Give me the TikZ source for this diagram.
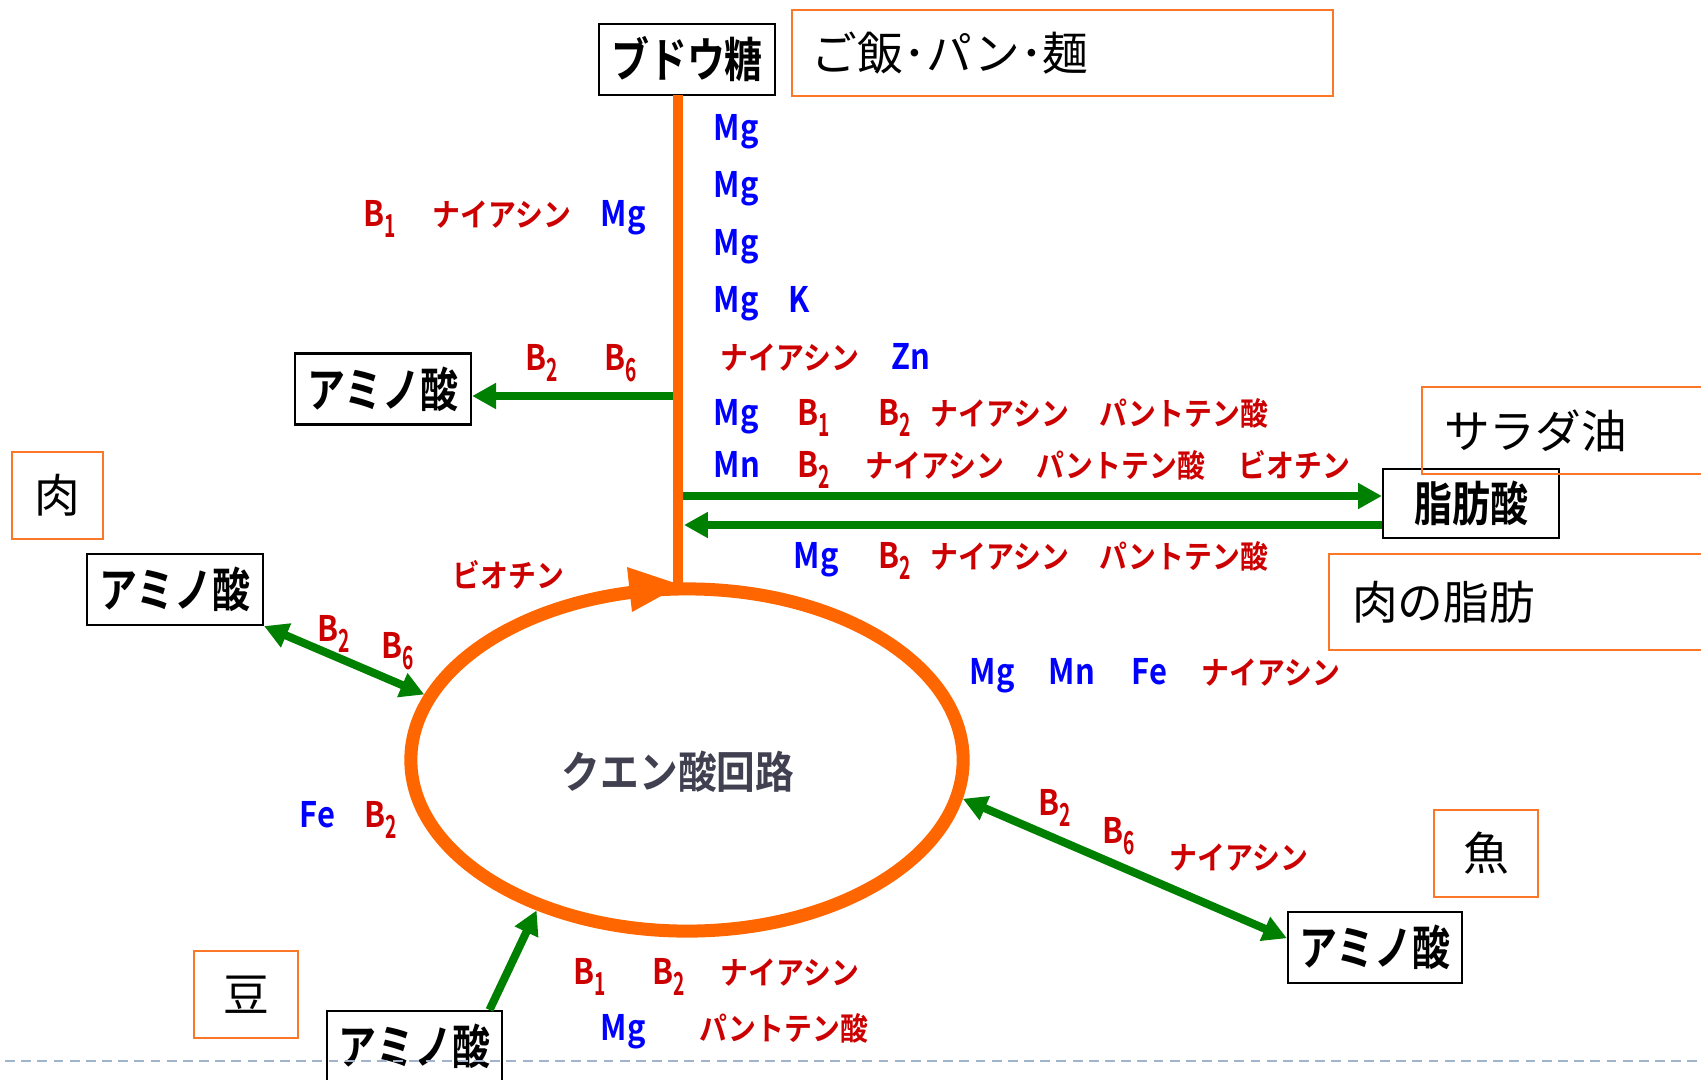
\documentclass[tikz,border=0pt]{standalone}
\usepackage{fontspec}
\usepackage{graphicx}
\usetikzlibrary{shapes.geometric,arrows.meta}
\newfontfamily\jpb{Noto Sans CJK JP Bold}[FakeStretch=0.88]
\newfontfamily\jpbx{Noto Sans CJK JP Bold}[FakeStretch=0.8]
\newfontfamily\jpr{Noto Sans CJK JP}
\definecolor{cblue}{RGB}{0,0,255}
\definecolor{cred}{RGB}{204,0,0}
\definecolor{cgreen}{RGB}{0,128,0}
\definecolor{corange}{RGB}{255,102,0}
\definecolor{coline}{RGB}{250,120,40}
\definecolor{cgray}{RGB}{64,64,80}
\definecolor{cdash}{RGB}{160,180,205}
\newcommand\bsub[1]{B\raisebox{-3.2pt}{\scalebox{0.62}[0.9]{#1}}}
\tikzset{
  lat/.style={anchor=base west, inner sep=0, font=\jpb\fontsize{10pt}{10pt}\selectfont},
  kana/.style={anchor=base west, inner sep=0, font=\jpb\fontsize{9pt}{9pt}\selectfont},
  bl/.style={lat, text=cblue},
  rl/.style={lat, text=cred},
  rk/.style={kana, text=cred},
  jbox/.style={draw=black, line width=0.6pt, inner sep=0, minimum width=1.76cm, minimum height=0.71cm, font=\jpbx\fontsize{13.5pt}{13.5pt}\selectfont},
  obox/.style={draw=coline, line width=0.55pt, inner sep=0, font=\jpr\fontsize{13pt}{13pt}\selectfont},
  garrow/.style={draw=cgreen, line width=2.3pt, -{Triangle[length=6.8pt,width=7pt]}},
  gdouble/.style={draw=cgreen, line width=2.3pt, {Triangle[length=6.8pt,width=7pt]}-{Triangle[length=6.8pt,width=7pt]}},
}
\newcommand\lbl[5]{\node[#4] (#1) at (#2,#3) {#5};}
\begin{document}
\begin{tikzpicture}[x=0.01cm,y=-0.01cm]
\useasboundingbox (0,0) rectangle (1701,1079);
\fill[white] (0,0) rectangle (1701,1079);

% boxes
\node[jbox] (bud) at (687,59.5) {ブドウ糖};
\node[jbox] (amino1) at (383,389) {アミノ酸};
\node[jbox] (amino2) at (175,589.5) {アミノ酸};
\node[jbox, minimum width=1.74cm] (amino3) at (1375,947.5) {アミノ酸};
\node[jbox, minimum width=1.75cm] (amino4) at (414.5,1046.5) {アミノ酸};
\node[jbox, minimum height=0.69cm] (fatty) at (1471,503.5) {脂肪酸};

% cycle
\node[ellipse, draw=corange, line width=3.7pt, minimum width=5.52cm, minimum height=3.42cm, inner sep=0] (cyc) at (687,760) {};
\node[inner sep=0, text=cgray, font=\jpb\fontsize{12.5pt}{12.5pt}\selectfont] (cyct) at (678,772) {クエン酸回路};

% connector end points on the trunk
\coordinate (vtop) at (678,95);
\coordinate (vbot) at (678,590);
\coordinate (va) at (678,396);
\coordinate (vf1) at (678,496);
\coordinate (vf2) at (684,525);

% green arrows
\draw[garrow] (va) -- (amino1.east |- va);
\draw[garrow] (vf1) -- (fatty.west |- vf1);
\draw[garrow] (fatty.west |- vf2) -- (vf2);
\draw[gdouble] (amino2.south east) -- (cyc.166.3);
\draw[gdouble] (cyc.-8.1) -- (amino3.174.5);
\draw[garrow] (amino4.26.7) -- (cyc.-135);

% trunk
\draw[corange, line width=3.1pt] (vtop) -- (vbot);
\fill[corange] (627,567) -- (681,585) -- (632,612) -- cycle;

% orange source boxes
\node[obox, anchor=north west, minimum height=0.86cm, text width=5.01cm, inner xsep=0.2cm, align=left] (rice) at (791,9) {ご飯･パン･麺};
\node[obox, anchor=north west, minimum height=0.87cm, text width=3.38cm, inner xsep=0.22cm, align=left] (salad) at (1421,386) {サラダ油};
\node[obox, anchor=north west, minimum height=0.96cm, text width=4.07cm, inner xsep=0.23cm, align=left] (meatfat) at (1328,553) {肉の脂肪};
\node[obox, minimum width=0.91cm, minimum height=0.87cm] (meat) at (57.5,495.5) {肉};
\node[obox, minimum width=1.04cm, minimum height=0.87cm] (fish) at (1486,853.5) {魚};
\node[obox, minimum width=1.04cm, minimum height=0.87cm] (bean) at (246,994.5) {豆};

% labels on the trunk (right)
\lbl{t1}{713}{140}{bl}{Mg}
\lbl{t2}{713}{197}{bl}{Mg}
\lbl{t3}{713}{255}{bl}{Mg}
\lbl{t4}{713}{312}{bl}{Mg}
\lbl{t5}{788}{312}{bl}{K}
\lbl{t6}{720}{369}{rk}{ナイアシン}
\lbl{t7}{891}{369}{bl}{Zn}
% left of trunk
\lbl{u1}{363}{226}{rl}{\bsub{1}}
\lbl{u2}{432}{226}{rk}{ナイアシン}
\lbl{u3}{600}{226}{bl}{Mg}
\lbl{u4}{525}{370}{rl}{\bsub{2}}
\lbl{u5}{604}{370}{rl}{\bsub{6}}
% fatty acid rows
\lbl{f1}{713}{425}{bl}{Mg}
\lbl{f2}{797}{425}{rl}{\bsub{1}}
\lbl{f3}{878}{425}{rl}{\bsub{2}}
\lbl{f4}{930}{425}{rk}{ナイアシン}
\lbl{f5}{1099}{425}{rk}{パントテン酸}
\lbl{g1}{713}{477}{bl}{Mn}
\lbl{g2}{797}{477}{rl}{\bsub{2}}
\lbl{g3}{865}{477}{rk}{ナイアシン}
\lbl{g4}{1036}{477}{rk}{パントテン酸}
\lbl{g5}{1238}{477}{rk}{ビオチン}
\lbl{h1}{793}{568}{bl}{Mg}
\lbl{h2}{878}{568}{rl}{\bsub{2}}
\lbl{h3}{930}{568}{rk}{ナイアシン}
\lbl{h4}{1099}{568}{rk}{パントテン酸}
% around the cycle
\lbl{c1}{452}{587}{rk}{ビオチン}
\lbl{c2}{317}{641}{rl}{\bsub{2}}
\lbl{c3}{381}{658}{rl}{\bsub{6}}
\lbl{c4}{299}{827}{bl}{Fe}
\lbl{c5}{364}{827}{rl}{\bsub{2}}
\lbl{c6}{969}{684}{bl}{Mg}
\lbl{c7}{1048}{684}{bl}{Mn}
\lbl{c8}{1131}{684}{bl}{Fe}
\lbl{c9}{1201}{684}{rk}{ナイアシン}
\lbl{d1}{1038}{815}{rl}{\bsub{2}}
\lbl{d2}{1102}{843}{rl}{\bsub{6}}
\lbl{d3}{1169}{869}{rk}{ナイアシン}
\lbl{e1}{573}{984}{rl}{\bsub{1}}
\lbl{e2}{652}{984}{rl}{\bsub{2}}
\lbl{e3}{720}{984}{rk}{ナイアシン}
\lbl{e4}{600}{1040}{bl}{Mg}
\lbl{e5}{699}{1040}{rk}{パントテン酸}

% dashed footer line
\coordinate (dl) at (5,1061);
\coordinate (dr) at (1701,1061);
\draw[cdash, line width=0.45pt, dash pattern=on 2.8pt off 1.8pt] (dl) -- (dr);
\end{tikzpicture}
\end{document}
